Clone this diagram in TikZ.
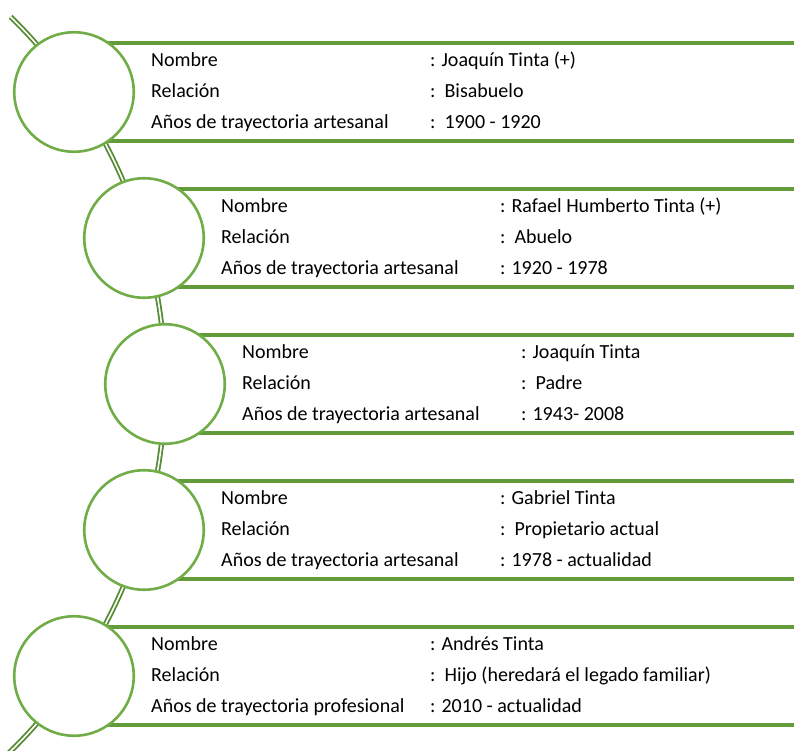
\documentclass[tikz,border=0pt]{standalone}
\usepackage{fontspec}
\setmainfont{Carlito}
\usetikzlibrary{calc}

\definecolor{ring}{HTML}{70AD47}
\definecolor{rulegreen}{HTML}{629C3A}
\definecolor{stem}{HTML}{548A30}

\tikzset{
  ringnode/.style={circle, draw=ring, line width=2.6pt, fill=white,
    minimum size=119.5pt, inner sep=0pt},
  rulestyle/.style={draw=rulegreen, line width=3.2pt},
  stemline/.style={draw=stem, line width=1.8pt, double=white,
    double distance=1.6pt, line cap=butt},
  lbl/.style={anchor=base west, inner sep=0pt,
    font=\fontsize{20}{24}\selectfont, text=black},
}

% One generation: id, centre x, centre y (measured downwards),
% name, relation, kind of career, years
\newcommand\linaje[7]{%
  \draw[rulestyle] (#2,{-(#3)+49}) -- (800,{-(#3)+49});
  \draw[rulestyle] (#2,{-(#3)-49}) -- (800,{-(#3)-49});
  \node[ringnode] (#1) at (#2,-#3) {};
  \node[lbl] (#1-k1) at ({#2+77},{-(#3)+26}) {Nombre};
  \node[lbl] (#1-k2) at ({#2+77},{-(#3)-5}) {Relación};
  \node[lbl] (#1-k3) at ({#2+77},{-(#3)-36}) {Años de trayectoria #6};
  \node[lbl] (#1-v1) at ({#2+356},{-(#3)+26}) {#4};
  \node[lbl] (#1-v2) at ({#2+356},{-(#3)-5}) {#5};
  \node[lbl] (#1-v3) at ({#2+356},{-(#3)-36}) {#7};
}

\begin{document}
\begin{tikzpicture}[x=1pt,y=1pt]
  \useasboundingbox (0,0) rectangle (794,-750);
  \clip (0,0) rectangle (794,-750);

  % the stem that threads all generations
  \coordinate (stemcentre) at (-349,-384);
  \coordinate (stemtop) at ($(stemcentre)+(45.6:514)$);
  \draw[stemline] (stemtop) arc[start angle=45.6, end angle=-46.5, radius=514];

  \linaje{bisabuelo}{74}{92}{: Joaquín Tinta (+)}{:\ \ Bisabuelo}{artesanal}{:\ \ 1900 - 1920}
  \linaje{abuelo}{144}{238}{: Rafael Humberto Tinta (+)}{:\ \ Abuelo}{artesanal}{: 1920 - 1978}
  \linaje{padre}{165}{384}{: Joaquín Tinta}{:\ \ Padre}{artesanal}{: 1943- 2008}
  \linaje{propietario}{144}{530}{: Gabriel Tinta}{:\ \ Propietario actual}{artesanal}{: 1978 - actualidad}
  \linaje{hijo}{74}{676}{: Andrés Tinta}{:\ \ Hijo (heredará el legado familiar)}{profesional}{: 2010 - actualidad}
\end{tikzpicture}
\end{document}
